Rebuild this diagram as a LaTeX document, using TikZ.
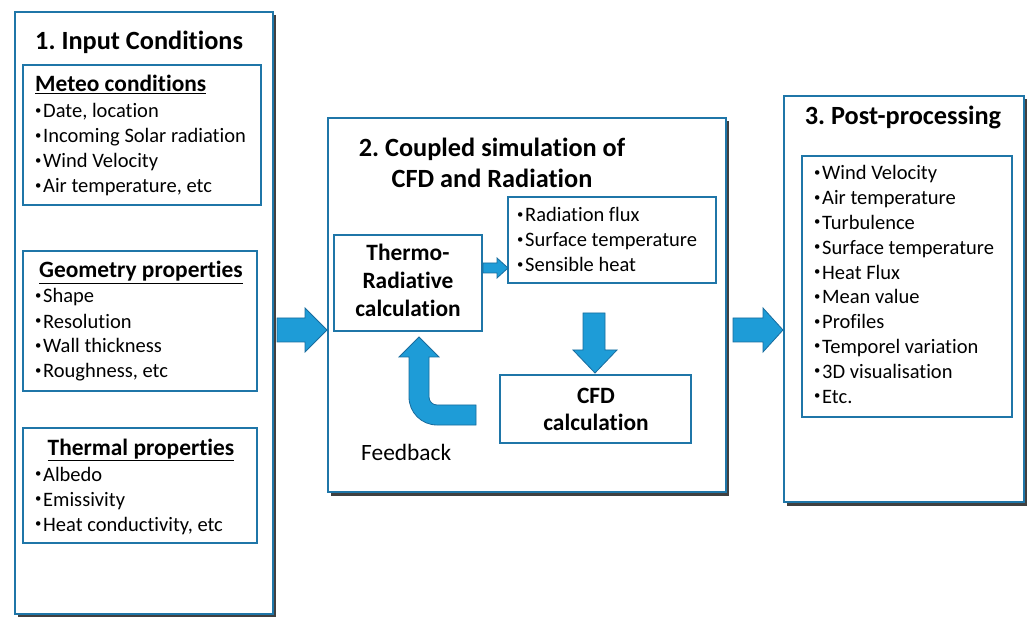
\documentclass[tikz,border=0pt]{standalone}
\usepackage{fontspec}
\usepackage{graphicx}
\setmainfont{Carlito}[Ligatures=NoCommon]
\usetikzlibrary{shadows}
\frenchspacing

\definecolor{edgeblue}{RGB}{31,118,168}
\definecolor{arrowfill}{RGB}{30,156,215}
\definecolor{arrowedge}{RGB}{24,108,158}

% small list bullet
\newcommand{\bul}{\raisebox{0.17em}{\scalebox{0.62}{•}}\hspace{0.08em}}

\tikzset{
  stage/.style={draw=edgeblue, line width=1.8pt, fill=white, inner sep=0pt, outer sep=0pt,
    anchor=north west,
    drop shadow={shadow xshift=2.5pt, shadow yshift=-3.5pt, fill=black, opacity=0.75}},
  panel/.style={draw=edgeblue, line width=1.5pt, fill=white, inner sep=0pt, outer sep=0pt,
    anchor=north west},
  bigtitle/.style={inner sep=0pt, font=\fontsize{26.3}{31}\selectfont\bfseries},
  subhead/.style={inner sep=0pt, font=\fontsize{23.4}{28}\selectfont\bfseries},
  % lists are placed by the baseline of their last line
  listtext/.style={inner sep=0pt, anchor=base west, align=left, font=\fontsize{20.5}{25}\selectfont},
  blockarrow/.style={fill=arrowfill, draw=arrowedge, line width=0.8pt, line join=miter},
}

\begin{document}
\begin{tikzpicture}[x=1pt, y=-1pt]
\useasboundingbox (0,0) rectangle (1028,617);

% ---------- stage 1: inputs ----------
\node[stage, minimum width=258pt, minimum height=602pt] (input) at (15,12) {};
\node[bigtitle, anchor=base west] (inputtitle) at (35,50) {1. Input Conditions};

\node[panel, minimum width=238pt, minimum height=140pt] (meteo) at (23,65) {};
\node[subhead, anchor=base west] (meteohead) at (35,92) {\underline{Meteo conditions}};
\node[listtext] (meteolist) at (35,193) {\bul Date, location\\\bul Incoming Solar radiation\\\bul Wind Velocity\\\bul Air temperature, etc};

\node[panel, minimum width=234pt, minimum height=140pt] (geom) at (23,251) {};
\node[subhead, anchor=base] (geomhead) at (141,278) {\underline{Geometry properties}};
\node[listtext] (geomlist) at (35,378) {\bul Shape\\\bul Resolution\\\bul Wall thickness\\\bul Roughness, etc};

\node[panel, minimum width=234pt, minimum height=115pt] (therm) at (23,428) {};
\node[subhead, anchor=base] (thermhead) at (141,455) {\underline{Thermal properties}};
\node[listtext] (thermlist) at (35,531) {\bul Albedo\\\bul Emissivity\\\bul Heat conductivity, etc};

% ---------- stage 2: coupled simulation ----------
\node[stage, minimum width=398pt, minimum height=374pt] (coupled) at (328,118) {};
\node[bigtitle, anchor=base] (coupledtitle1) at (492,157) {2. Coupled simulation of};
\node[bigtitle, anchor=base] (coupledtitle2) at (492,188) {CFD and Radiation};

\node[panel, minimum width=148pt, minimum height=96pt] (thermo) at (334,235) {};
\node[subhead, anchor=base] (thermo1) at (408,261) {Thermo-};
\node[subhead, anchor=base] (thermo2) at (408,289) {Radiative};
\node[subhead, anchor=base] (thermo3) at (408,317) {calculation};

\node[panel, minimum width=208pt, minimum height=86pt] (results) at (508,197) {};
\node[listtext] (resultslist) at (517,272) {\bul Radiation flux\\\bul Surface temperature\\\bul Sensible heat};

\node[panel, minimum width=191pt, minimum height=68pt] (cfd) at (500,375) {};
\node[subhead, anchor=base] (cfd1) at (596,403) {CFD};
\node[subhead, anchor=base] (cfd2) at (596,431) {calculation};

\node[inner sep=0pt, anchor=base west, font=\fontsize{23.4}{28}\selectfont] (feedback) at (361,460) {Feedback};

% ---------- stage 3: post-processing ----------
\node[stage, minimum width=240pt, minimum height=406pt] (post) at (784,96) {};
\node[bigtitle, anchor=base] (posttitle) at (903,125) {3. Post-processing};
\node[panel, minimum width=210pt, minimum height=261pt] (outputs) at (802,156) {};
\node[listtext, font=\fontsize{20.5}{24.8}\selectfont] (outlist) at (814,403)
  {\bul Wind Velocity\\\bul Air temperature\\\bul Turbulence\\\bul Surface temperature\\\bul Heat Flux\\\bul Mean value\\\bul Profiles\\\bul Temporel variation\\\bul 3D visualisation\\\bul Etc.};

% ---------- block arrows ----------
% inputs -> coupled simulation
\draw[blockarrow] (277,318) -- (305,318) -- (305,308) -- (327,330) -- (305,352) -- (305,342) -- (277,342) -- cycle;
% coupled simulation -> post-processing
\draw[blockarrow] (733,318) -- (763,318) -- (763,308) -- (783,330) -- (763,352) -- (763,342) -- (733,342) -- cycle;
% thermo-radiative -> results
\draw[blockarrow] (483,263) -- (497,263) -- (497,258) -- (508,268) -- (497,278) -- (497,273) -- (483,273) -- cycle;
% results -> CFD
\draw[blockarrow] (583,313) -- (605,313) -- (605,350) -- (617,350) -- (595,373) -- (573,350) -- (583,350) -- cycle;
% feedback: CFD -> thermo-radiative (bent arrow)
\draw[blockarrow] (419,337) -- (439,357) -- (429,357) -- (429,397)
  .. controls (429,401.4) and (432.6,405) .. (437,405)
  -- (476,405) -- (476,425) -- (437,425)
  .. controls (421.5,425) and (409,412.5) .. (409,397)
  -- (409,357) -- (399,357) -- cycle;
\end{tikzpicture}
\end{document}
